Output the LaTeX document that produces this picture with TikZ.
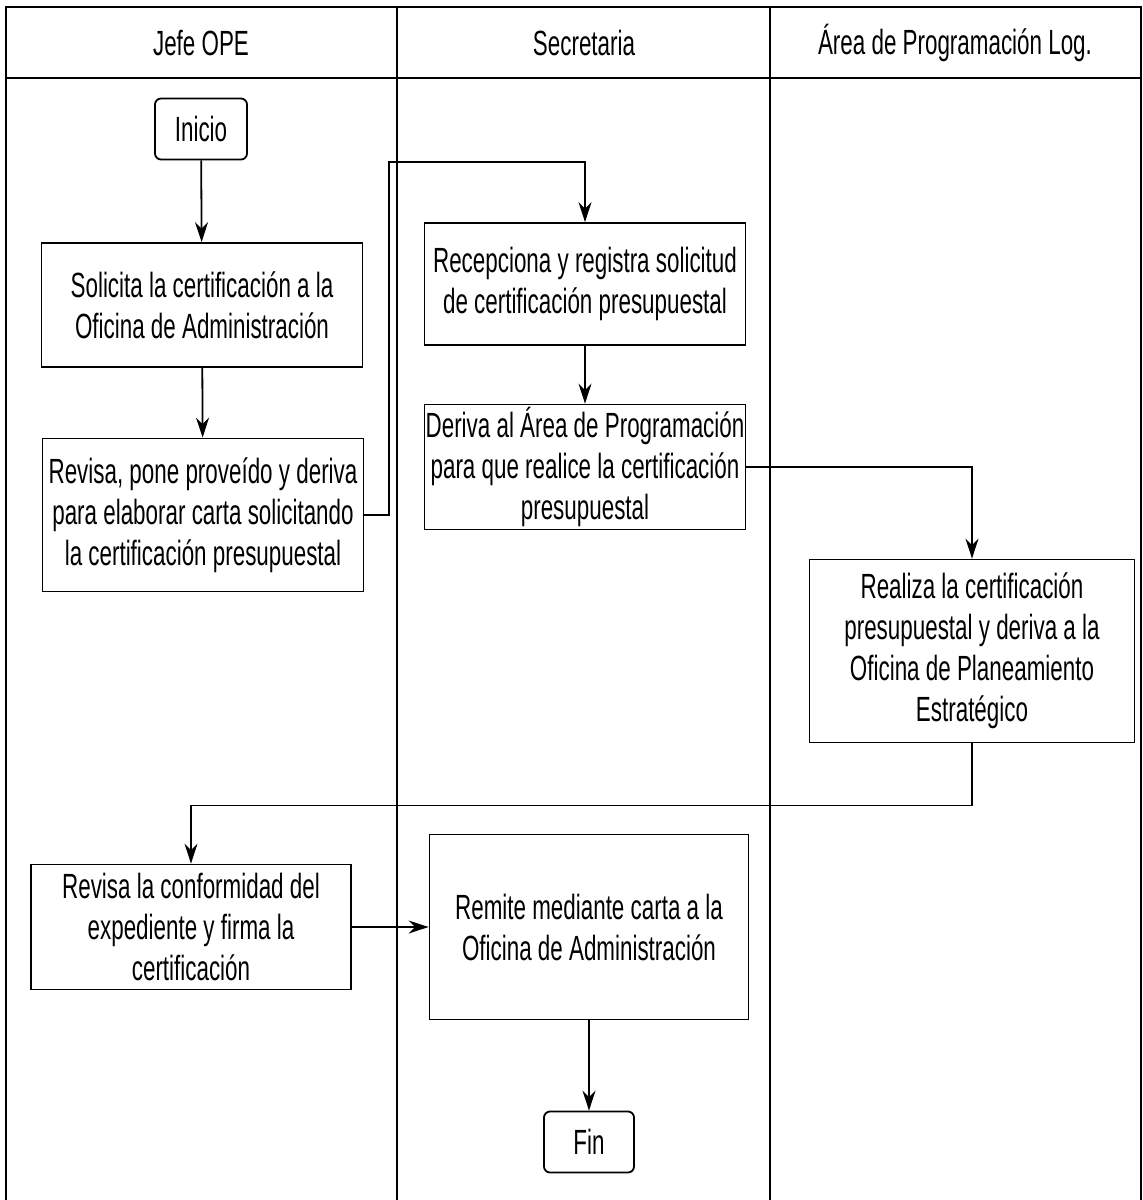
\documentclass[tikz,border=0pt]{standalone}
\usepackage{fontspec}
\setmainfont{Liberation Sans}[FakeStretch=0.64]
\usetikzlibrary{arrows.meta,positioning}
\tikzstyle{proceso} = [rectangle, draw=black, line width=1.8pt, minimum width=321pt, align=center, inner sep=0pt]
\tikzstyle{terminal} = [rectangle, rounded corners=6pt, draw=black, line width=1.8pt, minimum width=92pt, minimum height=61pt]
\tikzstyle{flecha} = [line width=1.8pt,-{Stealth[length=20pt,width=13pt]}]
\tikzstyle{carril} = [line width=1.5pt]

\begin{document}
\begin{tikzpicture}[x=1pt,y=-1pt,font=\fontsize{35}{41}\selectfont]
\useasboundingbox (0,0) rectangle (1143,1200);
% carriles
\draw [carril] (6,1200) -- (6,7) -- (1141,7) -- (1141,1200);
\draw [carril] (6,78) -- (1141,78);
\draw [carril] (397,7) -- (397,1200);
\draw [carril] (770,7) -- (770,1200);
\draw (201,43) node (jefe) {Jefe OPE};
\draw (584,43) node (secre) {Secretaria};
\draw (955,43) node (area) {Área de Programación Log.};
% nodos
\draw (201,129) node (inicio) [terminal] {Inicio};
\draw (202,305) node (solicita) [proceso, minimum height=124pt] {Solicita la certificación a la\\Oficina de Administración};
\draw (203,515) node (revisa) [proceso, minimum height=153pt] {Revisa, pone proveído y deriva\\para elaborar carta solicitando\\la certificación presupuestal};
\draw (585,284) node (recep) [proceso, minimum height=122pt] {Recepciona y registra solicitud\\de certificación presupuestal};
\draw (585,467) node (deriva) [proceso, minimum height=125pt] {Deriva al Área de Programación\\para que realice la certificación\\presupuestal};
\draw (972,651) node (realiza) [proceso, minimum width=325pt, minimum height=183pt] {Realiza la certificación\\presupuestal y deriva a la\\Oficina de Planeamiento\\Estratégico};
\draw (191,927) node (revisados) [proceso, minimum width=320pt, minimum height=125pt] {Revisa la conformidad del\\expediente y firma la\\certificación};
\draw (589,927) node (remite) [proceso, minimum width=319pt, minimum height=185pt] {Remite mediante carta a la\\Oficina de Administración};
\draw (589,1142) node (fin) [terminal, minimum width=90pt] {Fin};
\coordinate (codo) at (389,162);
% conectores
\draw [flecha] (inicio)--(solicita);
\draw [flecha] (solicita)--(revisa);
\draw [flecha] (revisa.east) -- (revisa.east -| codo) -- (codo) -| (recep.north);
\draw [flecha] (recep)--(deriva);
\draw [flecha] (deriva.east) -| (realiza.north);
\draw [flecha] (realiza.south) -- ++(0,62) -| (revisados.north);
\draw [flecha] (revisados)--(remite);
\draw [flecha] (remite)--(fin);
\end{tikzpicture}
\end{document}
